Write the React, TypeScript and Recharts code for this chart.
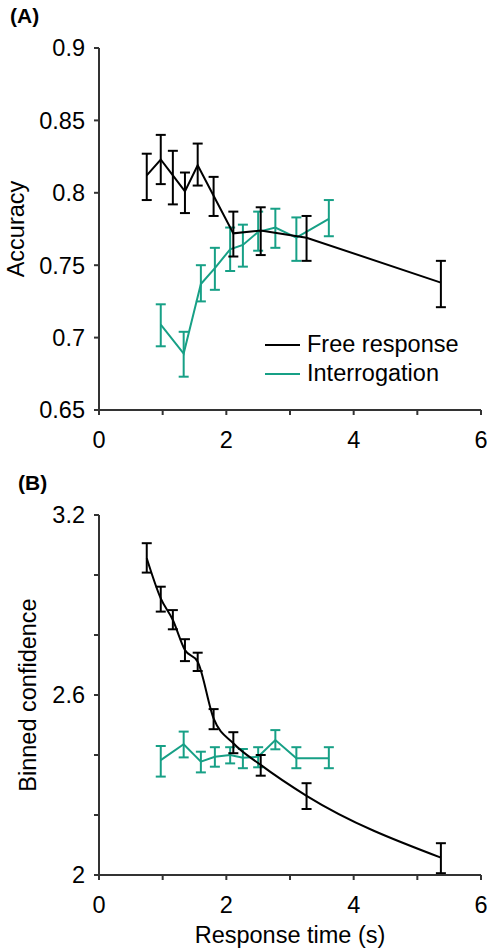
import React from "react";
import { LineChart, Line, XAxis, YAxis, ErrorBar } from "recharts";

// response time bins (s)
const freeX = [0.75, 0.97, 1.16, 1.35, 1.55, 1.8, 2.11, 2.54, 3.26, 5.37];
const interX = [0.97, 1.33, 1.6, 1.82, 2.06, 2.26, 2.5, 2.77, 3.1, 3.61];

// (A) accuracy
const freeAcc = [0.812, 0.823, 0.812, 0.801, 0.819, 0.798, 0.772, 0.774, 0.769, 0.738];
const freeAccLo = [0.795, 0.806, 0.792, 0.786, 0.805, 0.784, 0.756, 0.757, 0.753, 0.721];
const freeAccHi = [0.827, 0.84, 0.829, 0.814, 0.834, 0.811, 0.787, 0.79, 0.784, 0.753];
const interAcc = [0.709, 0.689, 0.737, 0.748, 0.761, 0.764, 0.773, 0.776, 0.769, 0.782];
const interAccLo = [0.694, 0.673, 0.725, 0.733, 0.746, 0.749, 0.76, 0.762, 0.753, 0.77];
const interAccHi = [0.723, 0.704, 0.75, 0.762, 0.776, 0.778, 0.787, 0.789, 0.783, 0.795];

// (B) binned confidence
const freeConf = [3.056, 2.922, 2.85, 2.75, 2.711, 2.522, 2.439, 2.367, 2.264, 2.058];
const freeConfLo = [3.008, 2.878, 2.819, 2.713, 2.68, 2.486, 2.406, 2.331, 2.22, 2.006];
const freeConfHi = [3.106, 2.961, 2.883, 2.786, 2.741, 2.553, 2.476, 2.4, 2.306, 2.106];
const interConf = [2.383, 2.436, 2.378, 2.394, 2.4, 2.391, 2.394, 2.45, 2.389, 2.389];
const interConfLo = [2.328, 2.392, 2.342, 2.361, 2.372, 2.356, 2.359, 2.419, 2.356, 2.356];
const interConfHi = [2.43, 2.478, 2.411, 2.426, 2.426, 2.42, 2.426, 2.483, 2.426, 2.426];

const xTicks = [0, 1, 2, 3, 4, 5, 6];
const accTicks = [0.65, 0.7, 0.75, 0.8, 0.85, 0.9];
const confTicks = [2, 2.2, 2.4, 2.6, 2.8, 3, 3.2];
const confLabels = ["2", "", "", "2.6", "", "", "3.2"];
const seriesNames = ["Free response", "Interrogation"];

const BLACK = "#000000";
const TEAL = "#17a086";
const AXIS = "#333333";
const FONT = "'Liberation Sans', Arial, sans-serif";
const FS = 23.5;

function rows(x: number[], y: number[], lo: number[], hi: number[]) {
  return x.map((v, i) => ({ x: v, y: y[i], err: [y[i] - lo[i], hi[i] - y[i]] }));
}

const freeA = rows(freeX, freeAcc, freeAccLo, freeAccHi);
const interA = rows(interX, interAcc, interAccLo, interAccHi);
const freeB = rows(freeX, freeConf, freeConfLo, freeConfHi);
const interB = rows(interX, interConf, interConfLo, interConfHi);

const tickStyle = { fontSize: FS, fill: "#000", fontFamily: FONT };
const axisLine = { stroke: AXIS, strokeWidth: 2 };

function LegendBox() {
  const item = (color: string, text: string) => (
    <div key={text} style={{ display: "flex", alignItems: "center", height: 29 }}>
      <div style={{ width: 35, height: 0, borderTop: `2px solid ${color}`, marginRight: 7 }} />
      <span style={{ fontSize: FS, fontFamily: FONT, color: "#000", lineHeight: "29px" }}>{text}</span>
    </div>
  );
  return (
    <div style={{ position: "absolute", left: 265, top: 330 }}>
      {item(BLACK, seriesNames[0])}
      {item(TEAL, seriesNames[1])}
    </div>
  );
}

function xAxisEl(withLabel: boolean, height: number) {
  return (
    <XAxis
      type="number"
      dataKey="x"
      domain={[0, 6]}
      ticks={xTicks}
      tickFormatter={(v: number) => (v % 2 === 0 ? String(v) : "")}
      tick={tickStyle}
      tickSize={5}
      tickMargin={16}
      axisLine={axisLine}
      tickLine={axisLine}
      height={height}
      allowDataOverflow
      label={
        withLabel
          ? { value: "Response time (s)", position: "insideBottom", offset: 6, style: { ...tickStyle, textAnchor: "middle" } }
          : undefined
      }
    />
  );
}

export default function App() {
  return (
    <div style={{ position: "absolute", left: 0, top: 0, width: 487, height: 949, background: "#fff", fontFamily: FONT }}>
      <div style={{ position: "absolute", left: 0, top: 0 }}>
        <LineChart width={487} height={462} margin={{ top: 48, right: 6, bottom: 0, left: 0 }}>
          {xAxisEl(false, 52)}
          <YAxis
            type="number"
            domain={[0.65, 0.9]}
            ticks={accTicks}
            tick={tickStyle}
            tickSize={5}
            tickMargin={9}
            axisLine={axisLine}
            tickLine={axisLine}
            width={99}
            allowDataOverflow
            label={{ value: "Accuracy", angle: -90, position: "insideLeft", offset: 16, style: { ...tickStyle, textAnchor: "middle" } }}
          />
          <Line data={interA} dataKey="y" name={seriesNames[1]} stroke={TEAL} strokeWidth={2} dot={false} activeDot={false} isAnimationActive={false} type="linear">
            <ErrorBar dataKey="err" direction="y" width={5} stroke={TEAL} strokeWidth={2} isAnimationActive={false} />
          </Line>
          <Line data={freeA} dataKey="y" name={seriesNames[0]} stroke={BLACK} strokeWidth={2} dot={false} activeDot={false} isAnimationActive={false} type="linear">
            <ErrorBar dataKey="err" direction="y" width={5} stroke={BLACK} strokeWidth={2} isAnimationActive={false} />
          </Line>
        </LineChart>
      </div>

      <div style={{ position: "absolute", left: 0, top: 462 }}>
        <LineChart width={487} height={487} margin={{ top: 53, right: 6, bottom: 0, left: 0 }}>
          {xAxisEl(true, 74)}
          <YAxis
            type="number"
            domain={[2, 3.2]}
            ticks={confTicks}
            tickFormatter={(v: number, i: number) => confLabels[i] ?? ""}
            tick={tickStyle}
            tickSize={5}
            tickMargin={9}
            axisLine={axisLine}
            tickLine={axisLine}
            width={99}
            allowDataOverflow
            label={{ value: "Binned confidence", angle: -90, position: "insideLeft", offset: 28, style: { ...tickStyle, textAnchor: "middle" } }}
          />
          <Line data={interB} dataKey="y" stroke={TEAL} strokeWidth={2} dot={false} activeDot={false} isAnimationActive={false} type="linear">
            <ErrorBar dataKey="err" direction="y" width={5} stroke={TEAL} strokeWidth={2} isAnimationActive={false} />
          </Line>
          <Line data={freeB} dataKey="y" stroke={BLACK} strokeWidth={2} dot={false} activeDot={false} isAnimationActive={false} type="monotone">
            <ErrorBar dataKey="err" direction="y" width={5} stroke={BLACK} strokeWidth={2} isAnimationActive={false} />
          </Line>
        </LineChart>
      </div>

      <LegendBox />
      <div style={{ position: "absolute", left: 10, top: 4, fontSize: 21, fontWeight: "bold" }}>(A)</div>
      <div style={{ position: "absolute", left: 18, top: 471, fontSize: 21, fontWeight: "bold" }}>(B)</div>
    </div>
  );
}
